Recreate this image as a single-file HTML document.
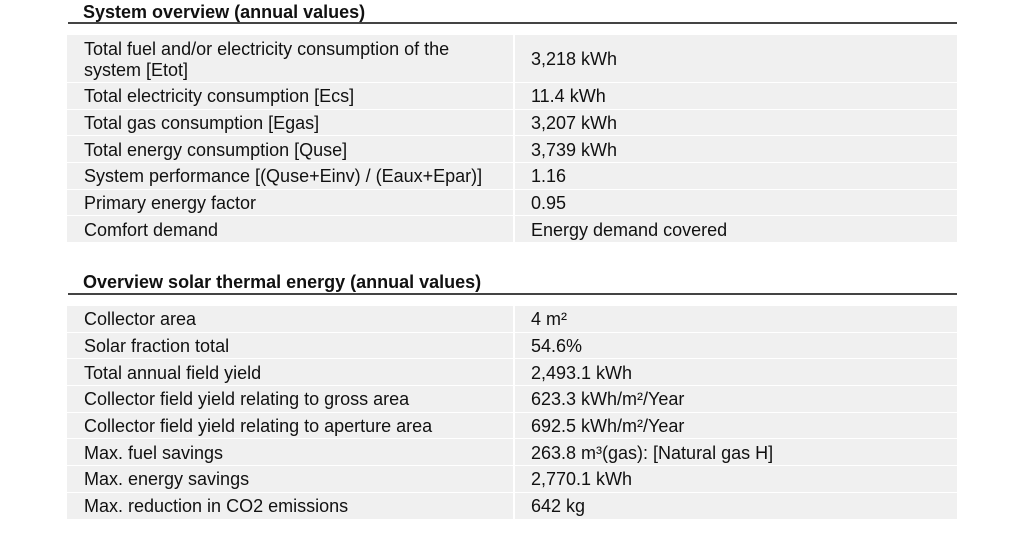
<!DOCTYPE html>
<html><head><meta charset="utf-8"><style>
body{margin:0;width:1024px;height:535px;background:#fff;font-family:"Liberation Sans",Arial,sans-serif;color:#111;position:relative;overflow:hidden}
.t{position:absolute;left:83px;font-weight:bold;font-size:18px}
.hl{position:absolute;left:68px;width:889px;height:2px;background:#444}
.tb{position:absolute;left:67px;width:890px}
.r{display:flex;height:25.7px;margin-bottom:1px;font-size:18px}
.r div{background:#f0f0f0;display:flex;align-items:center;padding-top:2px;box-sizing:border-box}
.a{width:446px;padding-left:17px;margin-right:2px;line-height:21px}
.b{flex:1;padding-left:16px}
</style></head><body>
<div class="t" style="top:2px">System overview (annual values)</div>
<div class="hl" style="top:22px"></div>
<div class="tb" style="top:35px">
<div class="r" style="height:47px"><div class="a">Total fuel and/or electricity consumption of the<br>system [Etot]</div><div class="b">3,218 kWh</div></div>
<div class="r"><div class="a">Total electricity consumption [Ecs]</div><div class="b">11.4 kWh</div></div>
<div class="r"><div class="a">Total gas consumption [Egas]</div><div class="b">3,207 kWh</div></div>
<div class="r"><div class="a">Total energy consumption [Quse]</div><div class="b">3,739 kWh</div></div>
<div class="r"><div class="a">System performance [(Quse+Einv) / (Eaux+Epar)]</div><div class="b">1.16</div></div>
<div class="r"><div class="a">Primary energy factor</div><div class="b">0.95</div></div>
<div class="r"><div class="a">Comfort demand</div><div class="b">Energy demand covered</div></div>
</div>
<div class="t" style="top:272px">Overview solar thermal energy (annual values)</div>
<div class="hl" style="top:293px"></div>
<div class="tb" style="top:306px">
<div class="r"><div class="a">Collector area</div><div class="b">4 m²</div></div>
<div class="r"><div class="a">Solar fraction total</div><div class="b">54.6%</div></div>
<div class="r"><div class="a">Total annual field yield</div><div class="b">2,493.1 kWh</div></div>
<div class="r"><div class="a">Collector field yield relating to gross area</div><div class="b">623.3 kWh/m²/Year</div></div>
<div class="r"><div class="a">Collector field yield relating to aperture area</div><div class="b">692.5 kWh/m²/Year</div></div>
<div class="r"><div class="a">Max. fuel savings</div><div class="b">263.8 m³(gas): [Natural gas H]</div></div>
<div class="r"><div class="a">Max. energy savings</div><div class="b">2,770.1 kWh</div></div>
<div class="r"><div class="a">Max. reduction in CO2 emissions</div><div class="b">642 kg</div></div>
</div>
</body></html>
